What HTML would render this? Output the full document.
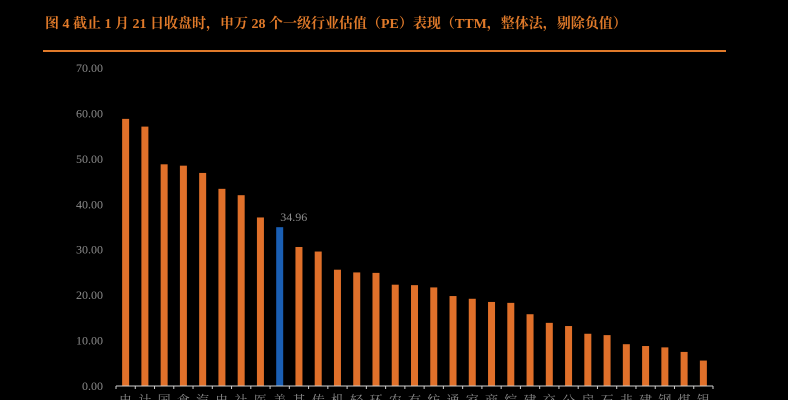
<!DOCTYPE html>
<html><head><meta charset="utf-8"><style>
html,body{margin:0;padding:0;background:#000;}
body{width:788px;height:400px;overflow:hidden;position:relative;font-family:"Liberation Serif","Noto Serif CJK SC",serif;}
</style></head><body>
<div style="position:absolute;left:45px;top:13px;color:#e07a2a;font-size:14px;font-weight:bold;font-family:'Liberation Serif','Noto Serif CJK SC',serif;white-space:nowrap;">图 4  截止 1 月 21 日收盘时，申万 28 个一级行业估值（PE）表现（TTM，整体法，剔除负值）</div>
<div style="position:absolute;left:43px;top:50px;width:683px;height:2px;background:#e07a2a;"></div>
<svg id="chart" width="788" height="400" style="position:absolute;left:0;top:0;"></svg>
<script>
const categories=["电子","计算机","国防军工","食品饮料","汽车","电力设备","社会服务","医药生物","美容护理","基础化工","传媒","机械设备","轻工制造","环保","农林牧渔","有色金属","纺织服饰","通信","家用电器","商贸零售","综合","建筑材料","交通运输","公用事业","房地产","石油石化","非银金融","建筑装饰","钢铁","煤炭","银行"];
const values=[58.8,57.1,48.8,48.5,46.9,43.4,42.0,37.1,34.96,30.6,29.6,25.6,25.0,24.9,22.3,22.2,21.7,19.8,19.2,18.5,18.3,15.8,13.9,13.2,11.5,11.2,9.2,8.8,8.5,7.5,5.6];
const highlightIndex=8;
const yTicks=[0,10,20,30,40,50,60,70];
const NS="http://www.w3.org/2000/svg";
const svg=document.getElementById('chart');
const x0=116,x1=713,yBase=386,yTop=68,yMax=70;
const slot=(x1-x0)/values.length;
function xs(i){return x0+slot*(i+0.5);}
function ys(v){return yBase-(v/yMax)*(yBase-yTop);}
function mk(t,a){const e=document.createElementNS(NS,t);for(const k in a)e.setAttribute(k,a[k]);svg.appendChild(e);return e;}
yTicks.forEach(t=>{
  const e=mk('text',{x:103,y:ys(t)+4,'text-anchor':'end','font-size':12,fill:'#8c8c8c','font-family':'Liberation Serif, serif'});
  
  
  e.textContent=t.toFixed(2);
});
values.forEach((v,i)=>{
  const r=mk('rect',{x:xs(i)-3.5,y:ys(v),width:7,height:yBase-ys(v),fill:i===highlightIndex?'#1a5fb4':'#e0702a'});
  
  
  const l=mk('text',{x:xs(i),y:405,'text-anchor':'middle','font-size':13,fill:'#8c8c8c','font-family':'Liberation Serif, Noto Serif CJK SC, serif'});
  
  
  l.textContent=categories[i].charAt(0);
});
const ax=mk('line',{x1:x0,y1:yBase,x2:x1,y2:yBase,stroke:'#d0d0d0','stroke-width':1});


for(let i=0;i<=values.length;i++){
  const t=mk('line',{x1:x0+slot*i,y1:yBase,x2:x0+slot*i,y2:yBase+3,stroke:'#d0d0d0','stroke-width':1});
  
  
}
const dl=mk('text',{x:xs(highlightIndex)+14,y:ys(values[highlightIndex])-6,'text-anchor':'middle','font-size':12,fill:'#8c8c8c','font-family':'Liberation Serif, serif'});


dl.textContent=values[highlightIndex].toFixed(2);
</script>
</body></html>
